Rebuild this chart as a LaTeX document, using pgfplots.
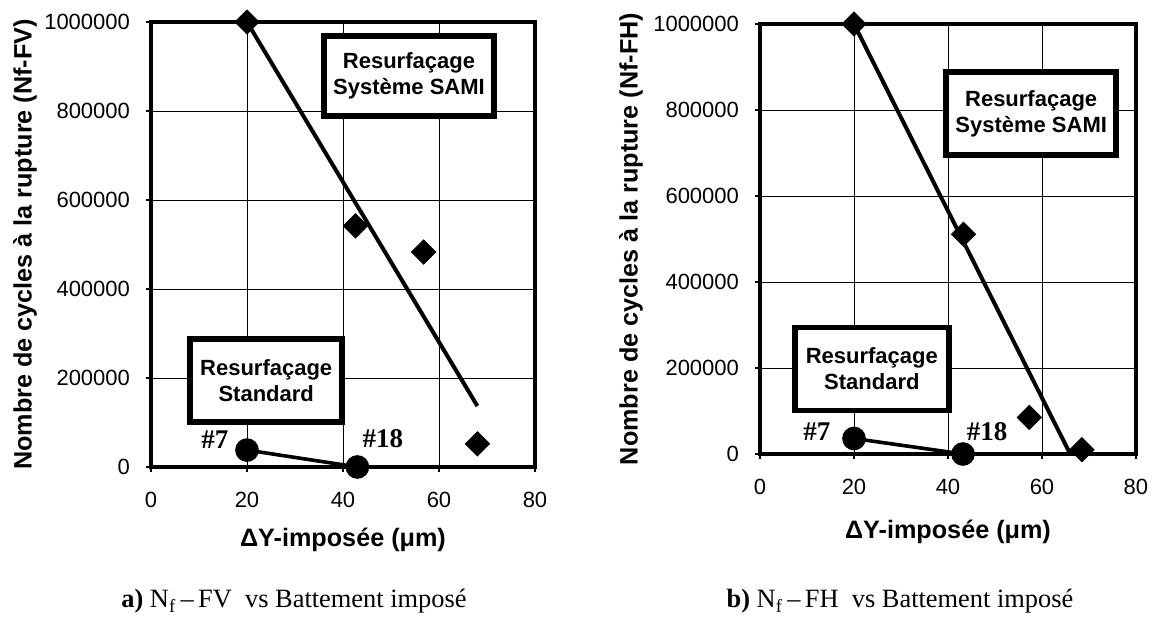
\documentclass[border=0pt]{standalone}
\usepackage{pgfplots}
\pgfplotsset{compat=1.18}
\usepackage{fontspec}
\setmainfont{Liberation Sans}
\newfontfamily\timesf{Liberation Serif}

\pgfplotsset{
 mystyle/.style={
  scale only axis,
  anchor=south west,
  xmin=0, xmax=80, ymin=0, ymax=1000000,
  xtick={0,20,40,60,80},
  ytick={0,200000,400000,600000,800000,1000000},
  scaled y ticks=false,
  yticklabel style={/pgf/number format/fixed, /pgf/number format/1000 sep={}, xshift=-4.5pt},
  xticklabel style={yshift=-6.5pt},
  /pgf/number format/assume math mode=true,
  tick label style={font=\fontsize{11}{13}\selectfont},
  label style={font=\bfseries\fontsize{12.6}{15}\selectfont},
  tick align=outside, tick pos=left, major tick length=2.5pt,
  tick style={black, line width=0.6pt},
  grid=major, major grid style={black, line width=0.45pt},
  axis line style={line width=2.4pt},
  clip=false,
 },
 diam/.style={only marks, mark=square*, mark options={rotate=45, fill=black, draw=black}, mark size=4.3pt},
 circ/.style={black, line width=1.8pt, mark=*, mark size=5pt, mark options={fill=black}},
}
\tikzset{
 boxnode/.style={draw, line width=2.8pt, fill=white, align=center, inner sep=2pt, font=\bfseries\fontsize{11}{13}\selectfont},
 hashlab/.style={font=\timesf\bfseries\fontsize{13.5}{15}\selectfont},
}

\begin{document}
\begin{tikzpicture}
\path[use as bounding box] (0pt,0pt) rectangle (579pt,315.5pt);

% ---------- left panel ----------
\begin{axis}[mystyle, at={(75.5pt,82pt)}, width=192pt, height=222.5pt,
  xlabel={ΔY-imposée (μm)},
  ylabel={Nombre de cycles à la rupture (Nf-FV)},
  xlabel style={at={(axis description cs:0.5,-0.164)}, anchor=center},
  ylabel style={at={(axis description cs:-0.328,0.5)}, anchor=center}]
\addplot[black, line width=2pt, no marks] coordinates {(20,1000000) (68,137000)};
\addplot[diam] coordinates {(20,1000000) (42.6,542000) (56.8,483000) (68,52000)};
\addplot[circ] coordinates {(20,38000) (43,0)};
\node[boxnode, minimum width=85pt, minimum height=40pt] at (axis cs:53.75,879000) {Resurfaçage\\Système SAMI};
\node[boxnode, minimum width=76pt, minimum height=41.5pt] at (axis cs:24.0,194000) {Resurfaçage\\Standard};
\node[hashlab] at (axis cs:13.3,61000) {\#7};
\node[hashlab] at (axis cs:48.3,63000) {\#18};
\end{axis}

% ---------- right panel ----------
\begin{axis}[mystyle, at={(380pt,88.5pt)}, width=188pt, height=215pt,
  xlabel={ΔY-imposée (μm)},
  ylabel={Nombre de cycles à la rupture (Nf-FH)},
  xlabel style={at={(axis description cs:0.5,-0.181)}, anchor=center},
  ylabel style={at={(axis description cs:-0.343,0.5)}, anchor=center}]
\addplot[black, line width=2pt, no marks] coordinates {(20,1000000) (66,0)};
\addplot[diam] coordinates {(20,1000000) (43.3,511000) (57.3,85000) (68.5,10000)};
\addplot[circ] coordinates {(20,36000) (43.2,0)};
\node[boxnode, minimum width=85pt, minimum height=41.5pt] at (axis cs:57.7,792000) {Resurfaçage\\Système SAMI};
\node[boxnode, minimum width=77pt, minimum height=41.5pt] at (axis cs:23.8,198000) {Resurfaçage\\Standard};
\node[hashlab] at (axis cs:12.1,51000) {\#7};
\node[hashlab] at (axis cs:48.3,51000) {\#18};
\end{axis}

% ---------- captions ----------
\node[font=\timesf\fontsize{13.2}{15}\selectfont, anchor=base] at (147pt,11.5pt) {\textbf{a)} N\textsubscript{f}\,–\,FV\ \ vs Battement imposé};
\node[font=\timesf\fontsize{13.2}{15}\selectfont, anchor=base] at (450pt,11.5pt) {\textbf{b)} N\textsubscript{f}\,–\,FH\ \ vs Battement imposé};
\end{tikzpicture}
\end{document}
